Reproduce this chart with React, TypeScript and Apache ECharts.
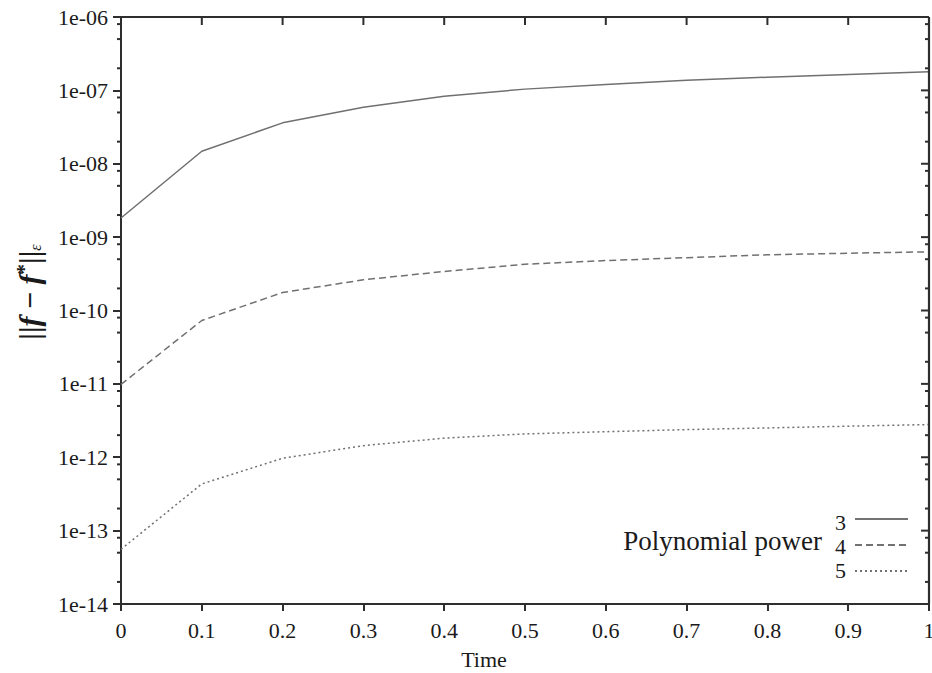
import React, { useEffect, useRef } from "react";
import * as echarts from "echarts";

// ---- data ----
const timeValues = [0, 0.1, 0.2, 0.3, 0.4, 0.5, 0.6, 0.7, 0.8, 0.9, 1.0];
const power3 = [1.82e-9, 1.48e-8, 3.61e-8, 5.87e-8, 8.32e-8, 1.04e-7, 1.2e-7, 1.37e-7, 1.51e-7, 1.64e-7, 1.8e-7];
const power4 = [9.84e-12, 7.31e-11, 1.76e-10, 2.62e-10, 3.4e-10, 4.27e-10, 4.79e-10, 5.25e-10, 5.75e-10, 6.03e-10, 6.31e-10];
const power5 = [5.56e-14, 4.33e-13, 9.68e-13, 1.44e-12, 1.82e-12, 2.08e-12, 2.23e-12, 2.38e-12, 2.51e-12, 2.65e-12, 2.79e-12];
const seriesNames = ["3", "4", "5"];
const xTickLabels = ["0", "0.1", "0.2", "0.3", "0.4", "0.5", "0.6", "0.7", "0.8", "0.9", "1"];
const xTickValues = [0.1, 0.2, 0.3, 0.4, 0.5, 0.6, 0.7, 0.8, 0.9];
const yTickLabels = ["1e-14", "1e-13", "1e-12", "1e-11", "1e-10", "1e-09", "1e-08", "1e-07", "1e-06"];
const yDecades = [-14, -13, -12, -11, -10, -9, -8, -7];
const minorMultipliers = [2, 5, 8];
const legendTitle = "Polynomial power";
const xAxisTitle = "Time";

const LINE_COLOR = "#707070";
const FRAME = "#2e2e2e";
const TEXT = "#1a1a1a";
const SERIF = "Liberation Serif";

const GRID = { left: 121, right: 3, top: 17, bottom: 69 };
const W = 932;
const H = 673;

export default function App() {
  const ref = useRef<HTMLDivElement>(null);

  useEffect(() => {
    if (!ref.current) return;
    const chart = echarts.init(ref.current, null, { renderer: "svg" });

    const toPairs = (arr: number[]) => timeValues.map((t, i) => [t, arr[i]]);
    const dashes: any[] = ["solid", [7, 4], [2, 3]];
    const allSeries = [power3, power4, power5];

    const tickStyle = { color: FRAME, width: 2 };

    const option: any = {
      animation: false,
      backgroundColor: "#fff",
      textStyle: { fontFamily: SERIF },
      grid: { ...GRID, containLabel: false, outerBoundsMode: "none" },
      xAxis: {
        type: "value",
        min: 0,
        max: 1,
        interval: 0.1,
        position: "bottom",
        axisLine: { show: true, onZero: false, lineStyle: { color: FRAME, width: 2 } },
        axisTick: { show: true, length: 7, lineStyle: tickStyle },
        axisLabel: {
          margin: 15,
          fontFamily: SERIF,
          fontSize: 22,
          color: TEXT,
          formatter: (v: number) => xTickLabels[Math.round(v * 10)] ?? "",
        },
        splitLine: { show: false },
      },
      yAxis: {
        type: "log",
        logBase: 10,
        min: 1e-14,
        max: 1e-6,
        interval: 1,
        position: "left",
        axisLine: { show: true, onZero: false, lineStyle: { color: FRAME, width: 2 } },
        axisTick: { show: true, length: 8, lineStyle: tickStyle },
        axisLabel: {
          margin: 13,
          fontFamily: SERIF,
          fontSize: 22,
          color: TEXT,
          formatter: (v: number) => {
            const e = Math.round(Math.log10(v));
            return yTickLabels[e + 14] ?? "";
          },
        },
        splitLine: { show: false },
      },
      series: allSeries.map((arr, i) => ({
        name: seriesNames[i],
        type: "line",
        data: toPairs(arr),
        showSymbol: false,
        symbol: "none",
        lineStyle: { color: LINE_COLOR, width: 1.5, type: dashes[i] },
        z: 3,
      })),
    };

    chart.setOption(option);

    // Frame + mirrored / minor ticks, placed through the chart's own axes
    const xl = GRID.left;
    const xr = W - GRID.right;
    const yt = GRID.top;
    const yb = H - GRID.bottom;
    const st = { stroke: FRAME, lineWidth: 2 };
    const tickEls: any[] = [];

    tickEls.push({ type: "line", z: 10, shape: { x1: xl, y1: yt, x2: xr, y2: yt }, style: { stroke: FRAME, lineWidth: 2.2 } });
    tickEls.push({ type: "line", z: 10, shape: { x1: xr, y1: yt, x2: xr, y2: yb }, style: { stroke: FRAME, lineWidth: 2.2 } });

    xTickValues.forEach((x) => {
      const px = chart.convertToPixel({ xAxisIndex: 0 }, x) as number;
      tickEls.push({ type: "line", z: 10, shape: { x1: px, y1: yt, x2: px, y2: yt + 8 }, style: st });
    });

    const yVals: { v: number; major: boolean }[] = [];
    yDecades.forEach((d) => {
      yVals.push({ v: Math.pow(10, d), major: true });
      minorMultipliers.forEach((m) => yVals.push({ v: m * Math.pow(10, d), major: false }));
    });
    yVals.push({ v: 1e-6, major: true });

    yVals.forEach(({ v, major }) => {
      const py = chart.convertToPixel({ yAxisIndex: 0 }, v) as number;
      if (!major) {
        tickEls.push({ type: "line", z: 10, shape: { x1: xl - 4, y1: py, x2: xl, y2: py }, style: st });
      }
      const len = major ? 8 : 4;
      tickEls.push({ type: "line", z: 10, shape: { x1: xr - len, y1: py, x2: xr, y2: py }, style: st });
    });

    const labels: any[] = [
      {
        type: "text",
        x: 29,
        y: 292,
        rotation: Math.PI / 2,
        style: {
          text: "{n|||}{i|f}{n| − }{i|f}{s|*}{n|||}{e|ε}",
          align: "center",
          verticalAlign: "middle",
          fill: TEXT,
          rich: {
            n: { fontFamily: SERIF, fontSize: 30, fontWeight: "bold", fill: TEXT },
            i: { fontFamily: SERIF, fontSize: 30, fontStyle: "italic", fontWeight: "bold", fill: TEXT },
            s: { fontFamily: SERIF, fontSize: 21, fontWeight: "bold", fill: TEXT, padding: [0, 0, 11, 0] },
            e: { fontFamily: SERIF, fontSize: 16, fontStyle: "italic", fill: TEXT, padding: [13, 0, 0, 0] },
          },
        },
      },
      {
        type: "text",
        x: 484,
        y: 659,
        style: { text: xAxisTitle, align: "center", verticalAlign: "middle", fontFamily: SERIF, fontSize: 22, fill: TEXT },
      },
      {
        type: "text",
        x: 822,
        y: 541,
        style: { text: legendTitle, align: "right", verticalAlign: "middle", fontFamily: SERIF, fontSize: 27, fill: TEXT },
      },
      ...seriesNames.map((name, i) => ({
        type: "text",
        x: 846,
        y: 522 + i * 24,
        style: { text: name, align: "right", verticalAlign: "middle", fontFamily: SERIF, fontSize: 22, fill: TEXT },
      })),
      ...seriesNames.map((name, i) => ({
        type: "line",
        shape: { x1: 855, y1: 519 + i * 26, x2: 908, y2: 519 + i * 26 },
        style: { stroke: "#444", lineWidth: 1.4, lineDash: i === 0 ? null : dashes[i] },
      })),
    ];

    chart.setOption({ graphic: [...labels, ...tickEls] });
    return () => chart.dispose();
  }, []);

  return (
    <div ref={ref} style={{ position: "fixed", left: 0, top: 0, width: W, height: H, background: "#fff" }} />
  );
}
